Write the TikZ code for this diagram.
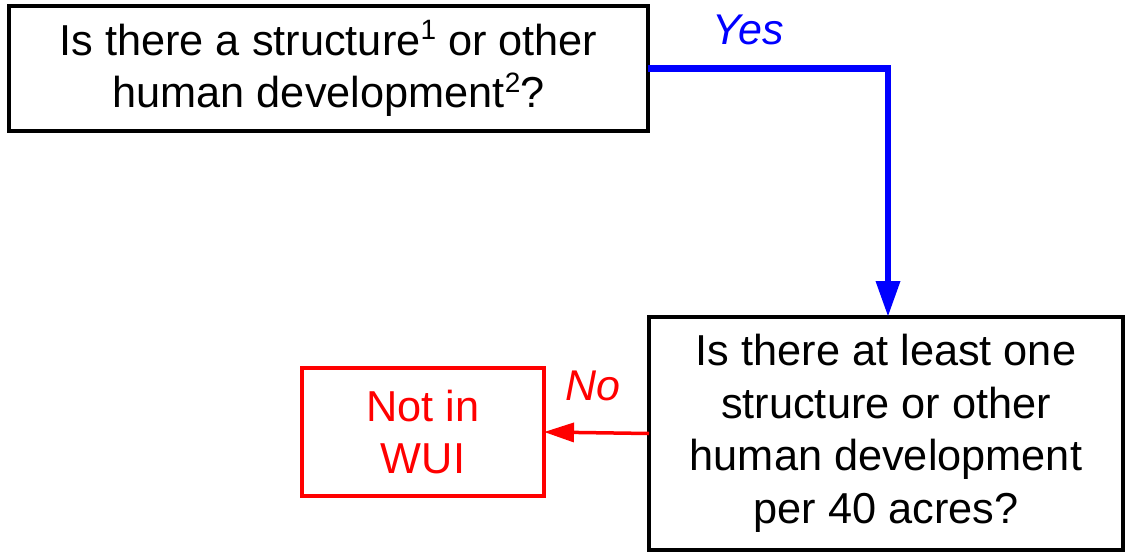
\documentclass[tikz,border=0pt]{standalone}
\usepackage{fontspec}
\setmainfont{Liberation Sans}
\usetikzlibrary{arrows.meta}
\definecolor{myblue}{RGB}{0,0,255}
\definecolor{myred}{RGB}{255,0,0}
\newcommand{\supnum}[1]{\raisebox{0.36em}{\fontsize{28}{28}\selectfont #1}}
\begin{document}
\begin{tikzpicture}[x=1pt,y=-1pt,
  txt/.style={font=\fontsize{43.3}{52.5}\selectfont, align=center},
  qbox/.style={txt, draw=black, line width=4pt, inner sep=0pt, outer sep=0pt},
  endbox/.style={txt, draw=myred, text=myred, line width=3.5pt, inner sep=0pt, outer sep=0pt},
  yesarrow/.style={draw=myblue, line width=6.5pt, -{Triangle[length=36pt,width=23pt]}},
  noarrow/.style={draw=myred, line width=3.5pt, -{Triangle[length=30pt,width=19pt]}},
  lbl/.style={font=\fontsize{43}{52}\selectfont\itshape, inner sep=0pt}
]
\useasboundingbox (0,0) rectangle (1127,554);
\node[qbox, minimum width=639pt, minimum height=125pt] (q1) at (328.5,68.5)
  {Is there a structure\supnum{1} or other\\human development\supnum{2}?};
\node[qbox, minimum width=474pt, minimum height=233pt] (q2) at (886,433.5)
  {Is there at least one\\structure or other\\human development\\per 40 acres?};
\node[endbox, minimum width=242pt, minimum height=128pt] (nw) at (423,432)
  {Not in\\WUI};
\coordinate (bend) at (888,68.5);
\draw[yesarrow] (q1.east) -- (bend) -- (bend |- q2.north);
\draw[noarrow] (q2.west) -- (nw.east);
\node[lbl, text=myblue] (yes) at (748,30) {Yes};
\node[lbl, text=myred] (no) at (593,386) {No};
\end{tikzpicture}
\end{document}
